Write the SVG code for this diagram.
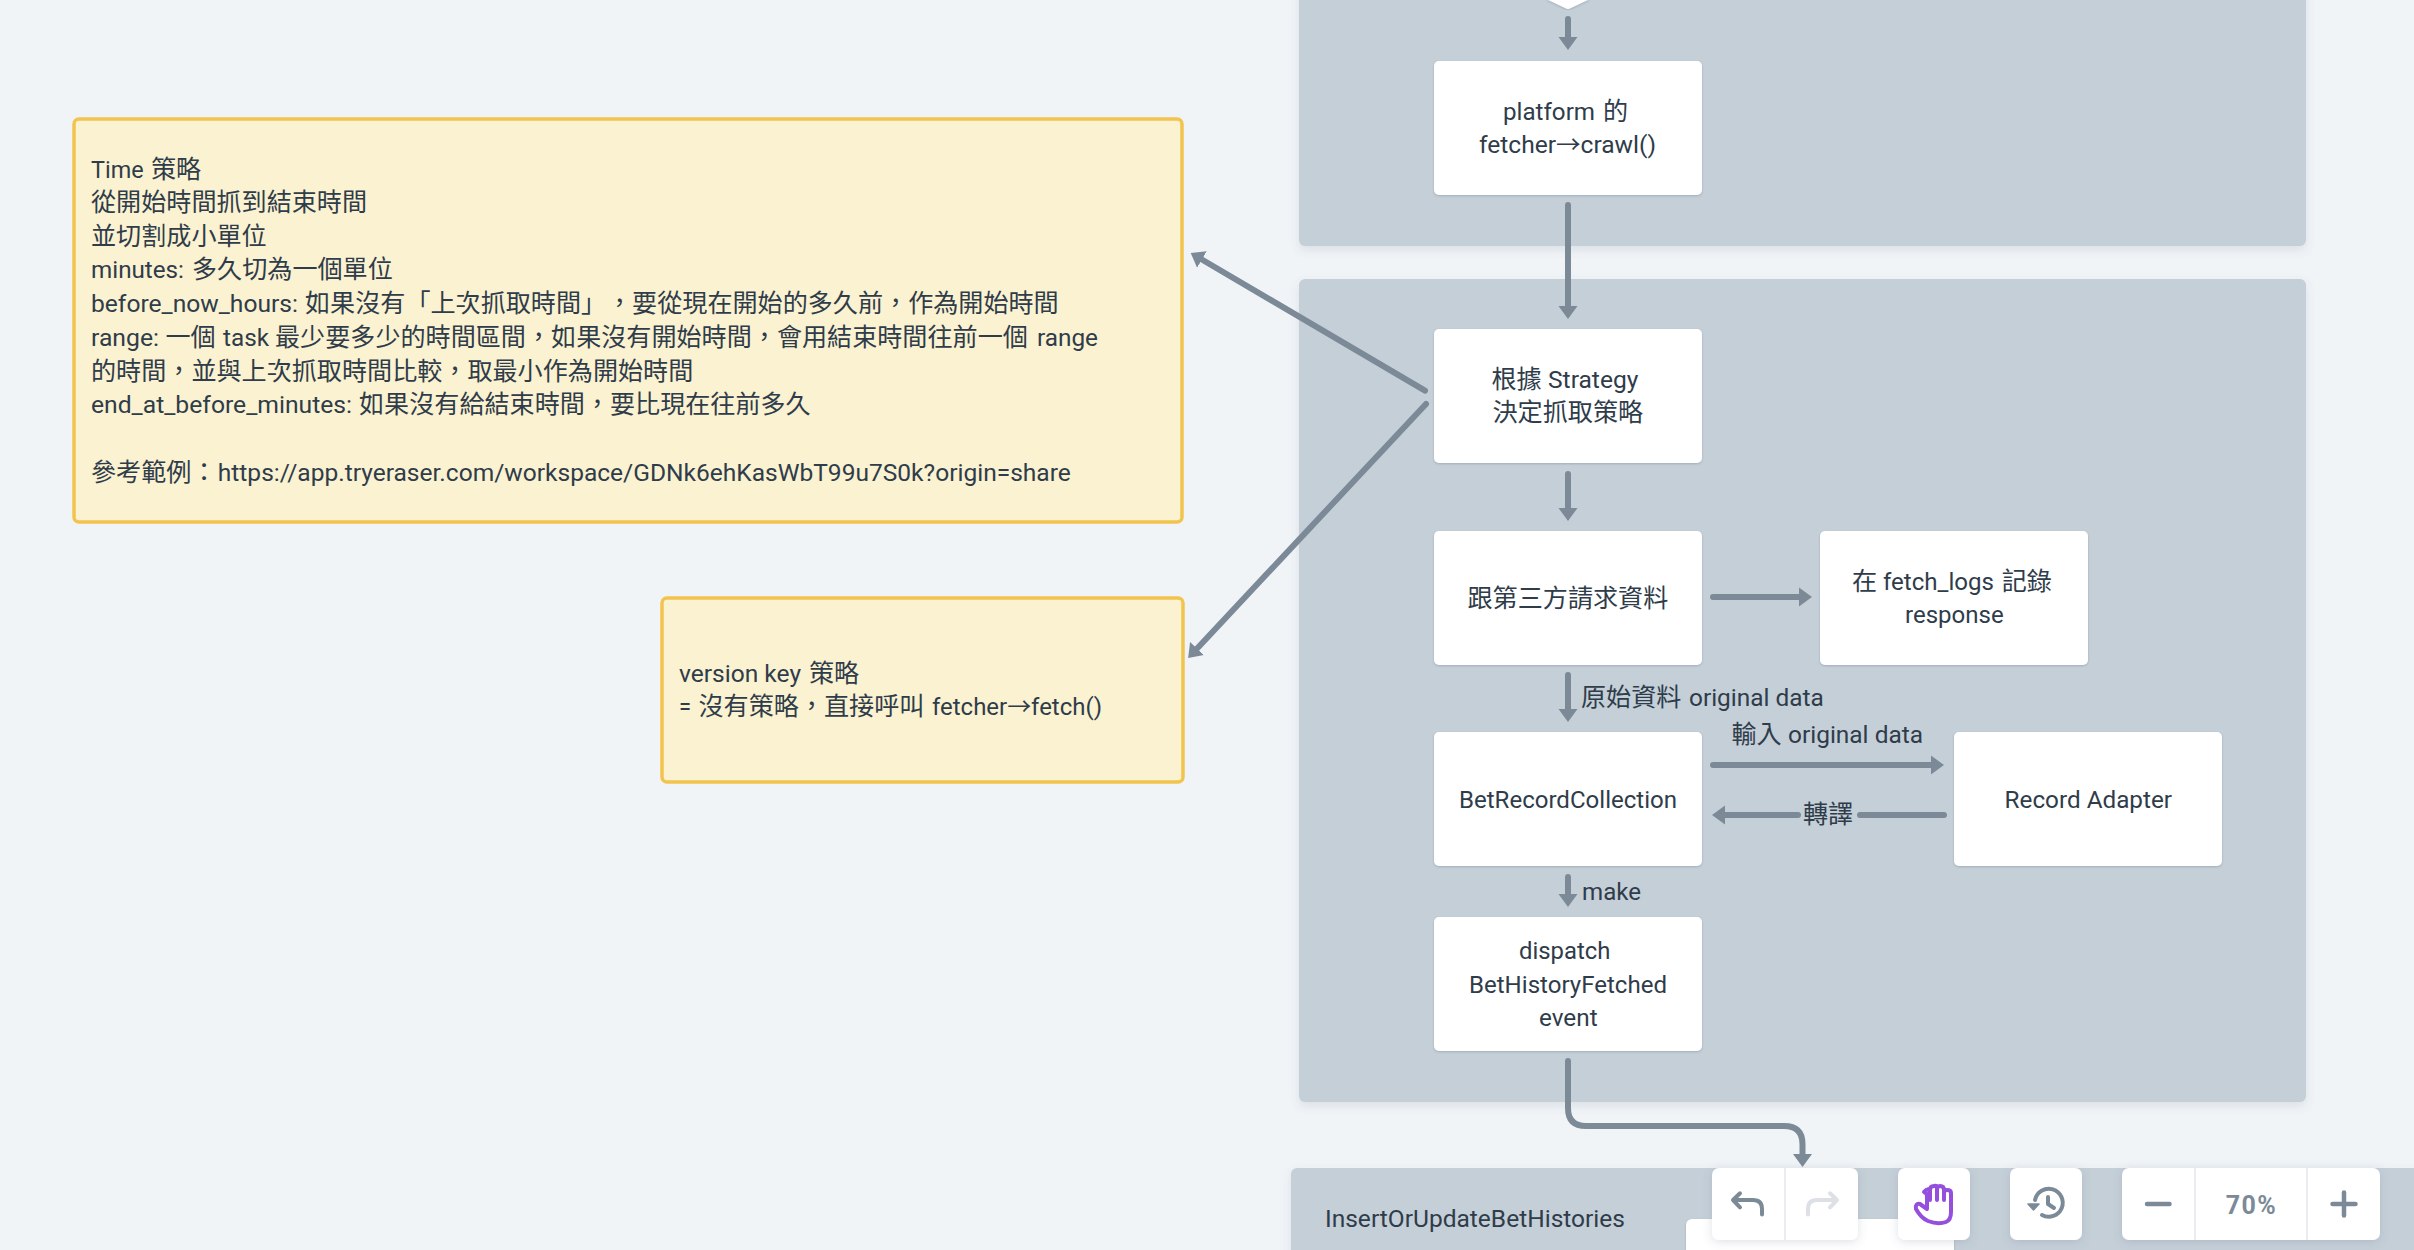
<svg xmlns="http://www.w3.org/2000/svg" width="2414" height="1250" viewBox="0 0 2414 1250">
<style>
text{font-family:Roboto,"Noto Sans CJK TC",sans-serif;font-size:25.100px;fill:#2f3c4a}
.l{font-size:24px}
.panel{fill:#c5cfd8;filter:url(#gs)}
.box{fill:#fff;filter:url(#bs)}
.note{fill:#fbf2d1;stroke:#f2c44e;stroke-width:3.500}
.c{fill:none;stroke:#7c8a98;stroke-width:6;stroke-linecap:round;stroke-linejoin:round;marker-end:url(#a)}
.tb{fill:#fff;filter:url(#ts)}
.dv{stroke:#e9edf2;stroke-width:2}
.ic{fill:none;stroke:#7c8a98;stroke-width:4;stroke-linecap:round;stroke-linejoin:round}
</style>
<defs>
<filter id="gs" x="-5%" y="-5%" width="110%" height="110%"><feDropShadow dx="0" dy="4" stdDeviation="5" flood-color="#5a6b7b" flood-opacity=".14"/></filter>
<filter id="bs" x="-5%" y="-5%" width="110%" height="110%"><feDropShadow dx="0" dy="1" stdDeviation="1" flood-color="#5a6b7b" flood-opacity=".35"/></filter>
<filter id="ts" x="-20%" y="-20%" width="140%" height="140%"><feDropShadow dx="0" dy="2" stdDeviation="5" flood-color="#5a6b7b" flood-opacity=".2"/></filter>
<marker id="a" markerUnits="userSpaceOnUse" markerWidth="14" markerHeight="20" refX="5" refY="10" orient="auto"><path d="M0 .5L13 10L0 19.5z" fill="#7c8a98"/></marker>
</defs>
<rect width="2414" height="1250" fill="#f0f4f7"/>
<g id="group-fetch"><path class="panel" d="M1299 -10H2306V240a6 6 0 0 1-6 6H1305a6 6 0 0 1-6-6z"/></g>
<g id="group-strategy"><rect class="panel" x="1299" y="279" width="1007" height="823" rx="6"/></g>
<g id="group-insert"><path class="panel" d="M1291 1174a6 6 0 0 1 6-6H2424V1260H1291z"/><text class="l" x="1325" y="1226.500" textLength="300" lengthAdjust="spacingAndGlyphs">InsertOrUpdateBetHistories</text><rect id="insert-box" class="box" x="1686" y="1219" width="268" height="50" rx="6"/></g>
<g id="diamond"><path class="box" d="M1546 -1H1590L1571 8Q1568 9.800 1565 8z"/></g>
<g id="node-crawl"><rect class="box" x="1434" y="61" width="268" height="134" rx="5"/>
<text y="120"><tspan class="l" x="1503" textLength="92" lengthAdjust="spacingAndGlyphs">platform</tspan><tspan x="1603">的</tspan></text>
<text class="l" x="1479" y="152.500" textLength="177" lengthAdjust="spacingAndGlyphs">fetcher→crawl()</text></g>
<g id="node-strategy"><rect class="box" x="1434" y="329" width="268" height="134" rx="5"/>
<text y="388"><tspan x="1491.500">根據</tspan><tspan class="l" x="1548" textLength="90.400" lengthAdjust="spacingAndGlyphs">Strategy</tspan></text>
<text x="1492.500" y="421">決定抓取策略</text></g>
<g id="node-request"><rect class="box" x="1434" y="531" width="268" height="134" rx="5"/>
<text x="1467.500" y="606.500">跟第三方請求資料</text></g>
<g id="node-logs"><rect class="box" x="1820" y="531" width="268" height="134" rx="5"/>
<text y="590"><tspan x="1852">在</tspan><tspan class="l" x="1883" textLength="111" lengthAdjust="spacingAndGlyphs">fetch_logs</tspan><tspan x="2001.700">記錄</tspan></text>
<text class="l" x="1905" y="623" textLength="98.700" lengthAdjust="spacingAndGlyphs">response</text></g>
<g id="node-collection"><rect class="box" x="1434" y="732" width="268" height="134" rx="5"/>
<text class="l" x="1459" y="808" textLength="218" lengthAdjust="spacingAndGlyphs">BetRecordCollection</text></g>
<g id="node-adapter"><rect class="box" x="1954" y="732" width="268" height="134" rx="5"/>
<text class="l" x="2004.600" y="808" textLength="167.400" lengthAdjust="spacingAndGlyphs">Record Adapter</text></g>
<g id="node-dispatch"><rect class="box" x="1434" y="917" width="268" height="134" rx="5"/>
<text class="l" x="1519" y="958.500" textLength="91.300" lengthAdjust="spacingAndGlyphs">dispatch</text>
<text class="l" x="1469" y="992.500" textLength="198" lengthAdjust="spacingAndGlyphs">BetHistoryFetched</text>
<text class="l" x="1539" y="1026" textLength="58.600" lengthAdjust="spacingAndGlyphs">event</text></g>
<g id="note-time"><rect class="note" x="74" y="119" width="1108" height="403" rx="5"/>
<text y="177.500"><tspan class="l" x="91" textLength="52.600" lengthAdjust="spacingAndGlyphs">Time</tspan><tspan x="151">策略</tspan></text>
<text x="91" y="211">從開始時間抓到結束時間</text>
<text x="91" y="244.500">並切割成小單位</text>
<text y="278"><tspan class="l" x="91" textLength="93" lengthAdjust="spacingAndGlyphs">minutes:</tspan><tspan x="192">多久切為一個單位</tspan></text>
<text y="312"><tspan class="l" x="91" textLength="207" lengthAdjust="spacingAndGlyphs">before_now_hours:</tspan><tspan x="305">如果沒有「上次抓取時間」 </tspan><tspan x="607">，要從現在開始的多久前，作為開始時間</tspan></text>
<text y="346"><tspan class="l" x="91" textLength="68" lengthAdjust="spacingAndGlyphs">range:</tspan><tspan x="165.500">一個</tspan><tspan class="l" x="223" textLength="46" lengthAdjust="spacingAndGlyphs">task</tspan><tspan x="275">最少要多少的時間區間，如果沒有開始時間，會用結束時間往前一個</tspan><tspan class="l" x="1037" textLength="61" lengthAdjust="spacingAndGlyphs">range</tspan></text>
<text x="91" y="379.500">的時間，並與上次抓取時間比較，取最小作為開始時間</text>
<text y="413"><tspan class="l" x="91" textLength="261" lengthAdjust="spacingAndGlyphs">end_at_before_minutes:</tspan><tspan x="359">如果沒有給結束時間，要比現在往前多久</tspan></text>
<text y="480.500"><tspan x="91">參考範例：</tspan><tspan class="l" x="217.800" textLength="853" lengthAdjust="spacingAndGlyphs">https://app.tryeraser.com/workspace/GDNk6ehKasWbT99u7S0k?origin=share</tspan></text></g>
<g id="note-version"><rect class="note" x="662" y="598" width="521" height="184" rx="5"/>
<text y="682"><tspan class="l" x="679" textLength="122" lengthAdjust="spacingAndGlyphs">version key</tspan><tspan x="809">策略</tspan></text>
<text y="715"><tspan class="l" x="679" textLength="12" lengthAdjust="spacingAndGlyphs">=</tspan><tspan x="698.500">沒有策略，直接呼叫</tspan><tspan class="l" x="932" textLength="170" lengthAdjust="spacingAndGlyphs">fetcher→fetch()</tspan></text></g>
<g id="connectors">
<path class="c" d="M1568 19V42"/>
<path class="c" d="M1568 205V311"/>
<path class="c" d="M1568 474V513"/>
<path class="c" d="M1425 390.700L1197.600 257"/>
<path class="c" d="M1426 404L1193.600 652.200"/>
<path class="c" d="M1713 597H1804"/>
<path class="c" d="M1568 675V714"/>
<path class="c" d="M1713 765H1936"/>
<path class="c" d="M1944 815H1860" style="marker-end:none"/>
<path class="c" d="M1798 815H1720"/>
<path class="c" d="M1568 877V899"/>
<path class="c" d="M1568 1061V1108Q1568 1126 1586 1126H1784Q1802.500 1126 1802.500 1144V1159"/>
<text y="705.500"><tspan x="1581">原始資料</tspan><tspan class="l" x="1689" textLength="134.700" lengthAdjust="spacingAndGlyphs">original data</tspan></text>
<text y="743"><tspan x="1731.500">輸入</tspan><tspan class="l" x="1788" textLength="135" lengthAdjust="spacingAndGlyphs">original data</tspan></text>
<text x="1803" y="822.500">轉譯</text>
<text class="l" x="1582" y="900" textLength="59" lengthAdjust="spacingAndGlyphs">make</text>
</g>
<g id="toolbar-history-nav"><rect class="tb" x="1712" y="1168" width="146" height="72" rx="7"/><line class="dv" x1="1785" y1="1168" x2="1785" y2="1240"/>
<path class="ic" d="M1740 1193.300L1733 1200L1740 1207.300M1733 1200H1753Q1762 1200 1762 1209V1214.500"/>
<path class="ic" style="stroke:#dde1e5" d="M1830 1193.300L1837 1200L1830 1207.300M1837 1200H1817Q1808 1200 1808 1209V1214.500"/></g>
<g id="toolbar-hand"><rect class="tb" x="1898" y="1168" width="72" height="72" rx="7"/>
<path class="ic" style="stroke:#9450dc" d="M1927 1209L1920 1204Q1915 1203 1916 1209Q1921 1218 1928 1221Q1938 1225 1946 1222Q1951 1220 1951 1212V1193Q1951 1190 1947 1190Q1944 1190 1944 1193V1200M1944 1193V1190Q1944 1186 1940 1186Q1937 1186 1937 1190V1200M1937 1190V1188Q1937 1185 1934 1186Q1930 1186 1930 1190V1200M1930 1190Q1927 1188 1924 1192Q1927 1193 1927 1196V1209"/></g>
<g id="toolbar-timeline"><rect class="tb" x="2010" y="1168" width="72" height="72" rx="7"/>
<path class="ic" d="M2035 1200A14 14 0 1 1 2042 1215M2048 1197V1204L2054 1208"/><path d="M2028 1204H2039L2033.500 1210z" fill="#7c8a98" stroke="#7c8a98" stroke-width="1.500" stroke-linejoin="round"/></g>
<g id="toolbar-zoom"><rect class="tb" x="2122" y="1168" width="258" height="72" rx="7"/><line class="dv" x1="2195" y1="1168" x2="2195" y2="1240"/><line class="dv" x1="2307" y1="1168" x2="2307" y2="1240"/>
<path class="ic" style="stroke-width:4.500" d="M2147 1204H2169.500M2332.500 1204H2355.500M2344 1192.500V1215.500"/>
<text x="2251.500" y="1214" text-anchor="middle" style="fill:#7c8a98;font-weight:700;font-size:25px;letter-spacing:1.500px">70%</text></g>
</svg>
